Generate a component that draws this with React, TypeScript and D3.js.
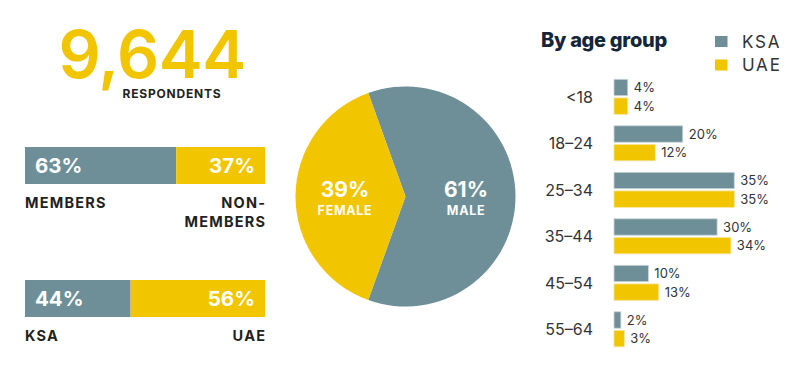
import React from "react";
import * as d3 from "d3";

// chart values
const respondents = "9,644";
const memberLabels = ["MEMBERS", "NON-MEMBERS"];
const memberShares = [63, 37];
const countryLabels = ["KSA", "UAE"];
const countryShares = [44, 56];
const genderLabels = ["MALE", "FEMALE"];
const genderShares = [61, 39];
const ageGroups = ["<18", "18–24", "25–34", "35–44", "45–54", "55–64"];
const ageSeries = ["KSA", "UAE"];
const ksaAge = [4, 20, 35, 30, 10, 2];
const uaeAge = [4, 12, 35, 34, 13, 3];

const W = 802;
const H = 368;
const GREY = "#6e8f98";
const YELLOW = "#f1c500";
const DARK = "#231f20";
const FONT = "Inter, 'Open Sans', sans-serif";

function SplitBar({ y, shares, labels }: { y: number; shares: number[]; labels: string[] }) {
  const x = d3.scaleLinear().domain([0, 100]).range([25, 265]);
  const h = 37;
  const split = x(shares[0]);
  const rightLines = labels[1].includes("-") ? [labels[1].split("-")[0] + "-", labels[1].split("-")[1]] : [labels[1]];
  return (
    <g>
      <rect x={x(0)} y={y} width={split - x(0)} height={h} fill={GREY} />
      <rect x={split} y={y} width={x(100) - split} height={h} fill={YELLOW} />
      <text x={x(0) + 10} y={y + h / 2} dy="0.36em" fill="#fff" fontSize={20.5} fontWeight={700}>
        {shares[0]}%
      </text>
      <text x={x(100) - 10} y={y + h / 2} dy="0.36em" fill="#fff" fontSize={20.5} fontWeight={700} textAnchor="end">
        {shares[1]}%
      </text>
      <text x={x(0)} y={y + 61} fill={DARK} fontSize={14.5} fontWeight={700} letterSpacing={1.2}>
        {labels[0]}
      </text>
      {rightLines.map((t, i) => (
        <text key={t} x={x(100) + 1.2} y={y + 61 + i * 19} fill={DARK} fontSize={14.5} fontWeight={700} letterSpacing={1.2} textAnchor="end">
          {t}
        </text>
      ))}
    </g>
  );
}

function Pie() {
  const cx = 405.5;
  const cy = 196.5;
  const r = 110;
  const start = -Math.PI * 2 * (genderShares[0] / 100 / 2 - 0.25);
  const pie = d3.pie<number>().sort(null).startAngle(start).endAngle(start + Math.PI * 2);
  const arcs = pie(genderShares);
  const arc = d3.arc<d3.PieArcDatum<number>>().innerRadius(0).outerRadius(r);
  const labelArc = d3.arc<d3.PieArcDatum<number>>().innerRadius(r * 0.55).outerRadius(r * 0.55);
  return (
    <g transform={`translate(${cx},${cy})`}>
      {arcs.map((a, i) => (
        <path key={i} d={arc(a) || ""} fill={i === 0 ? GREY : YELLOW} />
      ))}
      {arcs.map((a, i) => {
        const [lx] = labelArc.centroid(a);
        return (
          <g key={"l" + i} transform={`translate(${lx},0)`} fill="#fff" textAnchor="middle" fontWeight={700}>
            <text y={0} fontSize={21}>{genderShares[i]}%</text>
            <text y={18} fontSize={12.5} letterSpacing={0.7}>{genderLabels[i]}</text>
          </g>
        );
      })}
    </g>
  );
}

function AgeBars() {
  const x = d3.scaleLinear().domain([0, 35]).range([614, 734.3]);
  const y = d3.scaleBand<string>().domain(ageGroups).range([79.3, 79.3 + 46.5 * ageGroups.length]).padding(0);
  const inner = d3.scaleBand<string>().domain(ageSeries).range([0, 35]).paddingInner(0.12);
  const series = [ksaAge, uaeAge];
  return (
    <g>
      <text x={541} y={47} fill="#13263a" fontSize={20} fontWeight={800} letterSpacing={-0.3}>
        By age group
      </text>
      {ageSeries.map((s, i) => (
        <g key={s} transform={`translate(715,${36 + i * 23.5})`}>
          <rect width={12.5} height={11} fill={i === 0 ? GREY : YELLOW} />
          <text x={27} y={5.5} dy="0.36em" fontSize={17} letterSpacing={1.8} fill="#333">{s}</text>
        </g>
      ))}
      {ageGroups.map((g, gi) => (
        <g key={g}>
          <text x={593} y={(y(g) || 0) + 17.5} dy="0.36em" textAnchor="end" fontSize={16} fill="#333">
            {g}
          </text>
          {series.map((vals, si) => {
            const by = (y(g) || 0) + (inner(ageSeries[si]) || 0);
            const bh = inner.bandwidth();
            return (
              <g key={si}>
                <rect
                  x={x(0)}
                  y={by}
                  width={x(vals[gi]) - x(0)}
                  height={bh}
                  fill={si === 0 ? GREY : YELLOW}
                  stroke={si === 0 ? "#c9d6da" : "#f8e49a"}
                  strokeWidth={0.8}
                />
                <text x={x(vals[gi]) + 6} y={by + bh / 2} dy="0.36em" fontSize={13} fill="#333">
                  {vals[gi]}%
                </text>
              </g>
            );
          })}
        </g>
      ))}
    </g>
  );
}

export default function App() {
  return (
    <svg
      width={W}
      height={H}
      viewBox={`0 0 ${W} ${H}`}
      style={{ position: "absolute", left: 0, top: 0, background: "#fff" }}
      fontFamily={FONT}
    >
      <text x={152} y={78} textAnchor="middle" fill={YELLOW} fontSize={66} fontWeight={600} letterSpacing={-0.5}>
        {respondents}
      </text>
      <text x={172} y={97.5} textAnchor="middle" fill={DARK} fontSize={12} fontWeight={700} letterSpacing={0.8}>
        RESPONDENTS
      </text>
      <SplitBar y={147} shares={memberShares} labels={memberLabels} />
      <SplitBar y={280} shares={countryShares} labels={countryLabels} />
      <Pie />
      <AgeBars />
    </svg>
  );
}
